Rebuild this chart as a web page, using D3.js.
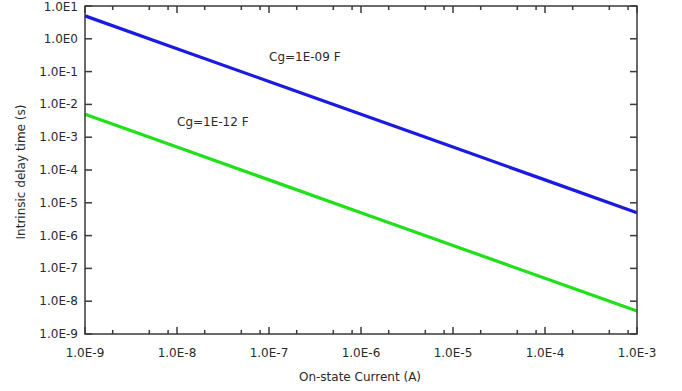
<!DOCTYPE html>
<html><head><meta charset="utf-8">
<script src="https://cdn.jsdelivr.net/npm/d3@7"></script>
<style>body{margin:0;background:#fff}svg{display:block}text{font-family:"DejaVu Sans",sans-serif;fill:#2a2a2a}</style>
</head><body>
<svg id="c" width="682" height="391"></svg>
<script>
const current = [1e-9, 1e-8, 1e-7, 1e-6, 1e-5, 1e-4, 1e-3];
const delayCg1e9 = [5, 5e-1, 5e-2, 5e-3, 5e-4, 5e-5, 5e-6];
const delayCg1e12 = [5e-3, 5e-4, 5e-5, 5e-6, 5e-7, 5e-8, 5e-9];
const seriesNames = ["Cg=1E-09 F", "Cg=1E-12 F"];
const xTickLabels = ["1.0E-9","1.0E-8","1.0E-7","1.0E-6","1.0E-5","1.0E-4","1.0E-3"];
const yTickLabels = ["1.0E-9","1.0E-8","1.0E-7","1.0E-6","1.0E-5","1.0E-4","1.0E-3","1.0E-2","1.0E-1","1.0E0","1.0E1"];
const yTickValues = [1e-9,1e-8,1e-7,1e-6,1e-5,1e-4,1e-3,1e-2,1e-1,1e0,1e1];

const svg = d3.select("#c");
const L=85, R=637, T=6, B=334;
const x = d3.scaleLog().domain([1e-9,1e-3]).range([L,R]);
const y = d3.scaleLog().domain([1e-9,1e1]).range([B,T]);
const axisColor="#3a3a3a";

const line = d3.line().x((d,i)=>x(current[i])).y(d=>y(d));
const colors=["#1a1ae0","#20e01a"];
[delayCg1e9, delayCg1e12].forEach((s,k)=>{
  svg.append("path").attr("d",line(s)).attr("fill","none").attr("stroke",colors[k]).attr("stroke-width",3.2);
});

svg.append("rect").attr("x",L).attr("y",T).attr("width",R-L).attr("height",B-T)
  .attr("fill","none").attr("stroke",axisColor).attr("stroke-width",1.5);

const g = svg.append("g");
current.forEach((v,i)=>{
  g.append("line").attr("x1",x(v)).attr("x2",x(v)).attr("y1",B).attr("y2",B-7).attr("stroke",axisColor).attr("stroke-width",1.5);
  g.append("line").attr("x1",x(v)).attr("x2",x(v)).attr("y1",T).attr("y2",T+7).attr("stroke",axisColor).attr("stroke-width",1.5);
  g.append("text").attr("x",x(v)).attr("y",357).attr("text-anchor","middle").attr("font-size",12).text(xTickLabels[i]);
});
const minorMult=[2,5,8];
current.slice(0,-1).forEach(v=>{
  minorMult.forEach(m=>{
    const xx=x(v*m);
    g.append("line").attr("x1",xx).attr("x2",xx).attr("y1",B).attr("y2",B-4).attr("stroke",axisColor).attr("stroke-width",1.5);
    g.append("line").attr("x1",xx).attr("x2",xx).attr("y1",T).attr("y2",T+4).attr("stroke",axisColor).attr("stroke-width",1.5);
  });
});
yTickValues.forEach((v,i)=>{
  g.append("line").attr("x1",L).attr("x2",L+7).attr("y1",y(v)).attr("y2",y(v)).attr("stroke",axisColor).attr("stroke-width",1.5);
  g.append("line").attr("x1",R).attr("x2",R-7).attr("y1",y(v)).attr("y2",y(v)).attr("stroke",axisColor).attr("stroke-width",1.5);
  g.append("text").attr("x",78).attr("y",Math.max(y(v)+4,11)).attr("text-anchor","end").attr("font-size",12).text(yTickLabels[i]);
});

svg.append("text").attr("x",360).attr("y",381).attr("text-anchor","middle").attr("font-size",12).text("On-state Current (A)");
svg.append("text").attr("transform","translate(25,172) rotate(-90)").attr("text-anchor","middle").attr("font-size",12).text("Intrinsic delay time (s)");

svg.append("text").attr("x",269).attr("y",61).attr("font-size",12).text(seriesNames[0]);
svg.append("text").attr("x",177).attr("y",126).attr("font-size",12).text(seriesNames[1]);
</script>
</body></html>
